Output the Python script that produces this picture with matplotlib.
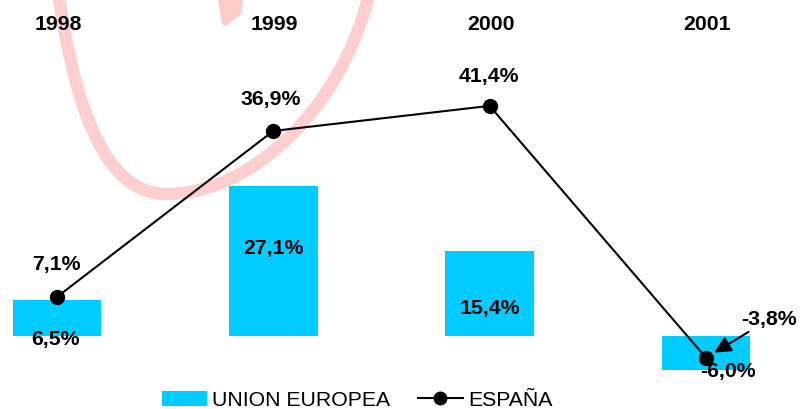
import matplotlib
matplotlib.use("Agg")
import matplotlib.pyplot as plt
from matplotlib.patches import Patch, Polygon, PathPatch
from matplotlib.lines import Line2D
from matplotlib.path import Path
from matplotlib.transforms import Affine2D

plt.rcParams['font.family'] = ['Liberation Sans', 'DejaVu Sans']

years = ['1998', '1999', '2000', '2001']
union_europea = [6.5, 27.1, 15.4, -6.0]
espana = [7.1, 36.9, 41.4, -3.8]
ue_labels = ['6,5%', '27,1%', '15,4%', '-6,0%']
es_labels = ['7,1%', '36,9%', '41,4%', '-3,8%']

BLUE = '#00CCFF'
FS = 15.3

W, H = 803, 409
fig = plt.figure(figsize=(W / 100, H / 100), dpi=100)

# decorative watermark (pixel coordinates, origin top-left)
pix = Affine2D().scale(1, -1).translate(0, H)
verts = [(59, -2), (76, 110), (105, 194), (167, 194),
         (250, 194), (340, 110), (368, -2)]
codes = [Path.MOVETO, Path.CURVE4, Path.CURVE4, Path.CURVE4,
         Path.CURVE4, Path.CURVE4, Path.CURVE4]
arc = PathPatch(Path(verts, codes), facecolor='none', edgecolor='#FFCFCF',
                lw=9.0, transform=pix, capstyle='butt', zorder=-5)
fig.patches.append(arc)
wedge = Polygon([(218, 0), (243, 0), (241, 14), (226, 26), (222, 24)],
                closed=True, facecolor='#FFCCCC', edgecolor='none',
                transform=pix, zorder=-5)
fig.patches.append(wedge)

ax = fig.add_axes([0, 0, 1, 1])
ax.set_zorder(1)
ax.patch.set_alpha(0)
ax.axis('off')
x = list(range(len(years)))
ax.set_xlim(-0.2635, 3.449)
ax.set_ylim(-13.02, 60.41)

ax.bar(x, union_europea, width=0.41, color=BLUE, zorder=2)
ax.plot(x, espana, color='black', lw=1.5, marker='o', markersize=10, zorder=3)

# year headers
for xi, yr in zip(x, years):
    ax.annotate(yr, xy=(xi, 1), xycoords=('data', 'axes fraction'),
                xytext=(1, -24), textcoords='offset pixels',
                ha='center', va='center', fontsize=FS, fontweight='bold')

# UE labels (offsets in pixels relative to bar end)
ue_off = [(-1, -3.5), (0, -62.5), (0, -57.3), (22, -2)]
ue_anchor = [0, union_europea[1], union_europea[2], union_europea[3]]
for xi, yv, lab, (dx, dy) in zip(x, ue_anchor, ue_labels, ue_off):
    ax.annotate(lab, xy=(xi, yv), xytext=(dx, dy), textcoords='offset pixels',
                ha='center', va='center', fontsize=FS, fontweight='bold', zorder=5)

# Spain labels
es_off = [(-1, 32), (-3, 31), (-1, 29)]
for xi, yv, lab, (dx, dy) in zip(x[:3], espana[:3], es_labels[:3], es_off):
    ax.annotate(lab, xy=(xi, yv), xytext=(dx, dy), textcoords='offset pixels',
                ha='center', va='center', fontsize=FS, fontweight='bold', zorder=5)
ax.annotate(es_labels[3], xy=(x[3], espana[3]), xytext=(63, 38),
            textcoords='offset pixels', ha='center', va='center',
            fontsize=FS, fontweight='bold', zorder=5,
            arrowprops=dict(arrowstyle='-|>', color='black', lw=1.5,
                            mutation_scale=25, shrinkA=0, shrinkB=7))

handles = [Patch(facecolor=BLUE, edgecolor='none'),
           Line2D([], [], color='black', lw=1.5, marker='o', markersize=9)]
fig.legend(handles, ['UNION EUROPEA', 'ESPAÑA'], loc='center',
           bbox_to_anchor=(0.445, 0.022), ncol=2, frameon=False,
           fontsize=FS, handlelength=2.1, handletextpad=0.25,
           columnspacing=1.3, borderpad=0)

fig.savefig('out.png', dpi=100)
